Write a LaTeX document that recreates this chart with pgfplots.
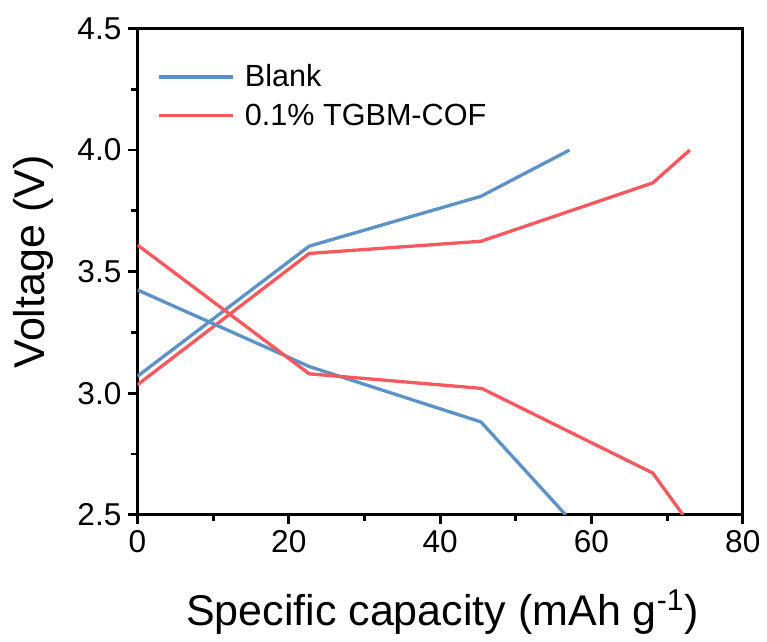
\documentclass[border=0pt]{standalone}
\usepackage{fontspec}
\setmainfont{Liberation Sans}
\usepackage{pgfplots}
\pgfplotsset{compat=1.18}
\definecolor{cblue}{RGB}{91,146,201}
\definecolor{cred}{RGB}{245,88,93}
\begin{document}
\begin{tikzpicture}
\begin{axis}[
  name=ax,
  width=302.75pt, height=243.25pt,
  scale only axis,
  xmin=0, xmax=80, ymin=2.5, ymax=4.5,
  xtick={0,20,40,60,80},
  ytick={2.5,3.0,3.5,4.0,4.5},
  minor x tick num=1, minor y tick num=1,
  tick align=outside, tick pos=left,
  major tick length=4.5pt, minor tick length=3pt,
  axis line style={line width=1.5pt},
  every tick/.style={black, line width=1.4pt},
  /pgf/number format/assume math mode=true,
  yticklabel style={/pgf/number format/.cd, fixed, fixed zerofill, precision=1},
  ticklabel style={font=\fontsize{15.8}{18}\selectfont},
  every axis x label/.style={at={(axis description cs:0.504,-0.228)}, anchor=base},
  every axis y label/.style={at={(axis description cs:-0.153,0.52)}, rotate=90, anchor=base},
  label style={font=\fontsize{21.5}{25}\selectfont},
  xlabel={Specific capacity (mAh g\textsuperscript{-1})},
  ylabel={Voltage (V)},
  legend style={draw=none, fill=none, at={(axis description cs:0.0327,0.935)}, anchor=north west,
    font=\fontsize{15.3}{17}\selectfont, inner sep=0pt, row sep=3pt,
    nodes={inner xsep=5pt}},
  legend cell align=left,
  legend image code/.code={\draw[#1] (0pt,0pt) -- (37pt,0pt);},
]
\addplot[cblue, line width=1.65pt] coordinates {(0,3.07) (22.7,3.605) (45.4,3.81) (57.1,4.0)};
\addlegendentry{Blank}
\addplot[cred, line width=1.65pt] coordinates {(0,3.035) (22.7,3.575) (45.4,3.625) (68.1,3.865) (73.0,4.0)};
\addlegendentry{0.1\% TGBM-COF}
\addplot[cblue, line width=1.65pt, forget plot] coordinates {(0,3.425) (22.7,3.11) (45.4,2.882) (56.6,2.5)};
\addplot[cred, line width=1.65pt, forget plot] coordinates {(0,3.61) (22.7,3.08) (45.5,3.02) (68.1,2.672) (72.1,2.5)};
\end{axis}
\path ([xshift=-68.75pt,yshift=-58.5pt]ax.south west) rectangle ([xshift=12pt,yshift=14.25pt]ax.north east);
\end{tikzpicture}
\end{document}
